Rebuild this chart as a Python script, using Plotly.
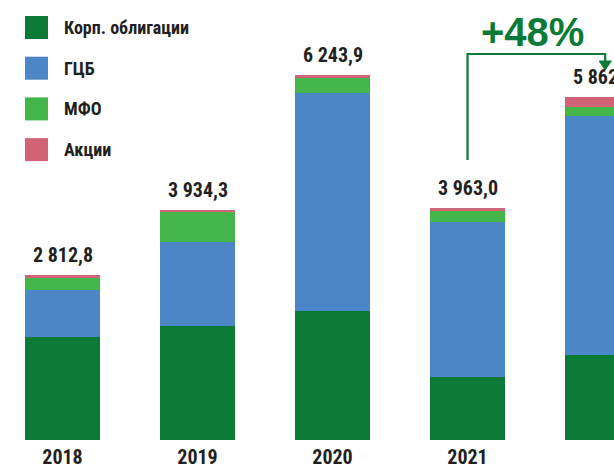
import plotly.graph_objects as go

# Data (млрд руб.), components estimated from bar proportions
years = ["2018", "2019", "2020", "2021", "2022"]
totals = [2812.8, 3934.3, 6243.9, 3963.0, 5862.4]
corp_bonds = [1753.0, 1949.0, 2211.0, 1075.0, 1454.0]
gov_bonds = [811.0, 1435.0, 3723.0, 2653.0, 4088.4]
mfo = [199.0, 508.0, 253.0, 180.0, 149.0]
shares = [49.8, 42.3, 56.9, 55.0, 171.0]
series_names = ["Корп. облигации", "ГЦБ", "МФО", "Акции"]
growth_label = "+48%"

COLORS = {
    "corp": "#0b7a37",
    "gov": "#4b87c6",
    "mfo": "#44b649",
    "shares": "#d26275",
    "text": "#231f20",
    "arrow": "#0b7a37",
}
FONT = "'Roboto Condensed', 'Open Sans Condensed', 'DejaVu Sans Condensed', sans-serif"

W, H = 614, 466
PLOT_H = 440  # plot area height in px (margin bottom 26)


def py(p):
    """pixel row -> paper y"""
    return (PLOT_H - p) / PLOT_H


def px(p):
    return p / W


x = list(range(len(years)))
fig = go.Figure()
stack = [
    (corp_bonds, COLORS["corp"]),
    (gov_bonds, COLORS["gov"]),
    (mfo, COLORS["mfo"]),
    (shares, COLORS["shares"]),
]
for (vals, color), name in zip(stack, series_names):
    fig.add_trace(go.Bar(
        x=x, y=vals, name=name,
        marker=dict(color=color, line=dict(width=0)),
        width=0.556, showlegend=False,
    ))

# totals above bars
for i, t in enumerate(totals):
    label = f"{t:,.1f}".replace(",", " ").replace(".", ",")
    fig.add_annotation(
        x=i, y=t, xref="x", yref="y", text=f"<b>{label}</b>",
        showarrow=False, yanchor="bottom", yshift=6,
        font=dict(family=FONT, size=20, color=COLORS["text"]),
    )

# manual legend
for k, ((vals, color), name) in enumerate(zip(stack, series_names)):
    top = 16 + k * 40.7
    fig.add_shape(
        type="rect", xref="paper", yref="paper",
        x0=px(25), x1=px(48), y0=py(top + 23), y1=py(top),
        fillcolor=color, line=dict(width=0),
    )
    fig.add_annotation(
        xref="paper", yref="paper", x=px(62), y=py(top + 11.5),
        xanchor="left", yanchor="middle", showarrow=False,
        text=f"<b>{name}</b>",
        font=dict(family=FONT, size=18, color=COLORS["text"]),
    )

# growth connector 2021 -> 2022
fig.add_shape(
    type="path", xref="x", yref="paper",
    path=f"M 3,{py(160)} L 3,{py(54)} L 4.02,{py(54)} L 4.02,{py(62)}",
    line=dict(color=COLORS["arrow"], width=2.2),
)
fig.add_shape(
    type="path", xref="x", yref="paper",
    path=f"M 3.975,{py(61)} L 4.065,{py(61)} L 4.02,{py(70)} Z",
    fillcolor=COLORS["arrow"], line=dict(color=COLORS["arrow"], width=1),
)
fig.add_annotation(
    xref="paper", yref="paper", x=px(532), y=py(56),
    xanchor="center", yanchor="bottom", showarrow=False,
    text=f"<b>{growth_label}</b>",
    font=dict(family="Liberation Sans, Arial, sans-serif", size=40, color=COLORS["arrow"]),
)

fig.update_layout(
    width=W, height=H,
    barmode="stack",
    paper_bgcolor="white", plot_bgcolor="white",
    margin=dict(l=0, r=0, t=0, b=H - PLOT_H),
    font=dict(family=FONT, color=COLORS["text"]),
    xaxis=dict(
        range=[-0.463, 4.085],
        tickvals=x, ticktext=[f"<b>{y}</b>" for y in years],
        tickfont=dict(family=FONT, size=20, color=COLORS["text"]),
        showgrid=False, zeroline=False, showline=False, ticks="",
        ticklabelstandoff=3, automargin=False,
    ),
    yaxis=dict(range=[0, 7520], visible=False, showgrid=False, zeroline=False,
               automargin=False),
)

fig.write_html("out.html", config={"displayModeBar": False},
               post_script="document.body.style.margin='0';")
